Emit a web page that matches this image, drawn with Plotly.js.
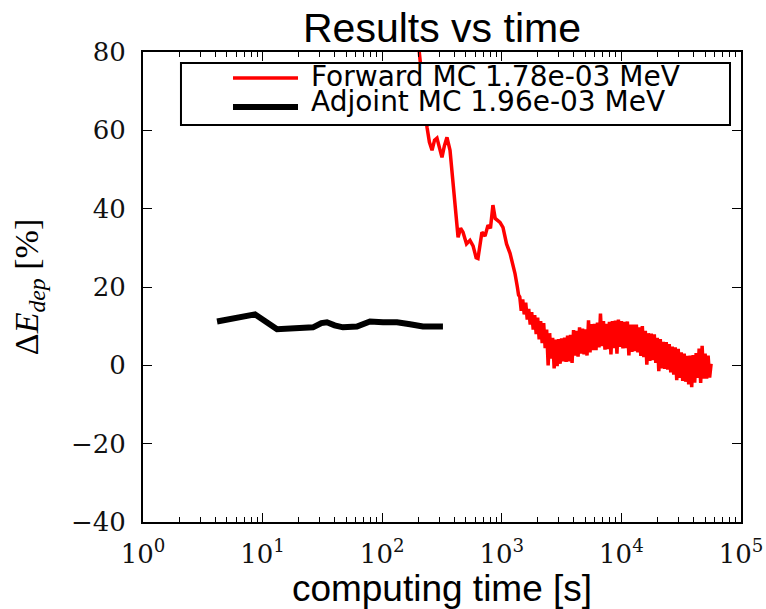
<!DOCTYPE html>
<html>
<head>
<meta charset="utf-8">
<script src="https://cdn.plot.ly/plotly-3.0.1.min.js"></script>
<style>html,body{margin:0;padding:0;background:#fff;}</style>
</head>
<body>
<div id="chart" style="width:766px;height:609px;"></div>
<script>
// ---- data ----
const forwardTime = [186, 209, 224, 237, 248, 261, 274, 287, 302, 316, 331, 348, 369, 389, 406, 431, 452, 474, 507, 542, 575, 610, 632, 682, 724, 767, 804, 843, 881, 912, 966, 1023, 1096, 1172, 1230, 1288, 1349, 1380,
  1413, 1454, 1496, 1540, 1585, 1632, 1679, 1728, 1778, 1831, 1884, 1939, 1995, 2054, 2113, 2176, 2239, 2305, 2371, 2441,
  2512, 2586, 2661, 2739, 2818, 2901, 2985, 3073, 3162, 3256, 3350, 3449, 3548, 3653, 3758, 3869, 3981, 4099, 4217, 4342,
  4467, 4599, 4732, 4872, 5012, 5160, 5309, 5466, 5623, 5790, 5957, 6133, 6310, 6496, 6683, 6881, 7079, 7289, 7499, 7721,
  7943, 8178, 8414, 8663, 8913, 9177, 9441, 9720, 10000, 10296, 10593, 10906, 11220, 11552, 11885, 12237, 12589, 12962,
  13335, 13730, 14125, 14543, 14962, 15405, 15849, 16318, 16788, 17285, 17783, 18309, 18836, 19394, 19953, 20544, 21135,
  21761, 22387, 23050, 23714, 24416, 25119, 25863, 26607, 27395, 28184, 29019, 29854, 30738, 31623, 32560, 33497, 34489,
  35481, 36532, 37584, 38697, 39811, 40990, 42170, 43419, 44668, 45991, 47315, 48717, 50119, 51603, 53088, 54661, 56234];
const forwardErr = [92, 78, 68, 60.8, 57, 54.9, 57.5, 58.0, 55, 53.1, 56, 58.2, 54.9, 48, 42.1, 32.7, 35, 34.0, 31, 31.9, 30.5, 27.5, 27.3, 34.0, 33, 35.8, 35, 40.9, 37.5, 37.0, 36.5, 35.2, 31, 28.6, 26, 23.5, 20, 18,
  17.5, 13.9, 16.8, 13.0, 16.0, 11.7, 14.4, 10.4, 13.6, 9.1, 12.8, 8.0, 12.2, 6.6, 11.3, 5.7, 10.8, 4.4, 9.1, 0.0,
  8.2, 1.7, 7.0, -0.8, 6.6, -0.2, 6.7, 0.4, 6.9, 1.0, 7.1, 0.9, 7.6, 1.0, 7.8, 0.6, 9.0, 2.5, 8.8, 2.2,
  9.7, 3.0, 9.4, 2.8, 9.2, 2.5, 11.5, 3.3, 10.5, 3.9, 10.6, 3.9, 10.9, 4.6, 13.2, 4.9, 11.3, 4.0, 10.6, 4.1,
  11.1, 2.8, 11.3, 4.4, 11.4, 3.0, 11.7, 4.7, 11.3, 4.3, 11.1, 4.4, 11.2, 2.5, 10.4, 3.4, 10.4, 3.6,
  10.4, 3.3, 9.7, 2.4, 10.0, 2.1, 8.8, 0.2, 8.2, 1.1, 8.1, 1.3, 7.9, 0.6, 7.0, -1.5, 6.7,
  -0.8, 6.0, -0.9, 5.9, -1.1, 5.4, -1.8, 4.8, -2.4, 4.6, -3.8, 4.2, -3.2, 3.3, -4.0, 3.0, -4.2,
  2.4, -4.9, 2.5, -5.6, 2.6, -4.4, 3.1, -3.2, 4.3, -4.5, 5.0, -3.4, 3.0, -3.4, 2.5, -3.1, 0.4];

const adjointTime = [4.16, 8.64, 13.2, 19.4, 26.4, 31.0, 34.5, 40.0, 47.0, 61.5, 79.0, 101.6, 133, 171, 219, 322];
const adjointErr = [11.2, 13.0, 9.2, 9.4, 9.7, 10.8, 11.0, 10.2, 9.7, 9.9, 11.2, 11.0, 11.0, 10.5, 9.9, 9.9];

const seriesNames = ['Forward MC 1.78e-03 MeV', 'Adjoint MC 1.96e-03 MeV'];
const seriesColors = ['#ff0000', '#000000'];

const xTickVals = [1, 10, 100, 1000, 10000, 100000];
const xTickText = ['10<sup>0</sup>', '10<sup>1</sup>', '10<sup>2</sup>', '10<sup>3</sup>', '10<sup>4</sup>', '10<sup>5</sup>'];

// minor ticks at 2..9 of each decade
const minorVals = [];
for (let d = 1; d <= 10000; d *= 10) { for (let k = 2; k <= 9; k++) minorVals.push(k * d); }

const traces = [
  { x: forwardTime, y: forwardErr, type: 'scatter', mode: 'lines', name: seriesNames[0],
    line: { color: seriesColors[0], width: 3.5 }, showlegend: false },
  { x: adjointTime, y: adjointErr, type: 'scatter', mode: 'lines', name: seriesNames[1],
    line: { color: seriesColors[1], width: 6 }, showlegend: false }
];

const serif = 'DejaVu Serif, Liberation Serif, serif';
const sans = 'Liberation Sans, Arial, Helvetica, sans-serif';
const legSans = 'DejaVu Sans, Liberation Sans, sans-serif';

// legend box geometry (paper coords)
const lg = { x0: 0.0635, x1: 0.9816, y0: 0.8447, y1: 0.9766, sx0: 0.1505, sx1: 0.2592, tx: 0.2776, rows: [0.9447, 0.8830], trows: [0.9475, 0.8940] };

const layout = {
  width: 766, height: 609,
  margin: { l: 143, r: 25, t: 52, b: 87 },
  paper_bgcolor: '#ffffff', plot_bgcolor: '#ffffff',
  showlegend: false,
  title: { text: 'Results vs time', font: { family: sans, size: 41, color: '#000' },
           x: 0.5, xref: 'paper', xanchor: 'center', y: 0.955, yref: 'container', yanchor: 'middle' },
  xaxis: {
    type: 'log', range: [0, 5],
    tickmode: 'array', tickvals: xTickVals, ticktext: xTickText,
    ticks: 'inside', ticklen: 9, tickwidth: 1, tickcolor: '#000',
    minor: { tickmode: 'array', tickvals: minorVals, ticks: 'inside', ticklen: 5, tickwidth: 1, tickcolor: '#000' },
    mirror: 'allticks', showline: true, linewidth: 2, linecolor: '#000',
    showgrid: false, zeroline: false,
    tickfont: { family: serif, size: 26, color: '#111' },
    ticklabelstandoff: 8,
    title: { text: 'computing time [s]', font: { family: sans, size: 37, color: '#000' }, standoff: 0 }
  },
  yaxis: {
    range: [-40, 80], tickmode: 'linear', tick0: 0, dtick: 20,
    ticks: 'inside', ticklen: 9, tickwidth: 1, tickcolor: '#000',
    mirror: 'allticks', showline: true, linewidth: 2, linecolor: '#000',
    showgrid: false, zeroline: false,
    tickfont: { family: serif, size: 26, color: '#111' },
    ticklabelstandoff: 10,
    title: { text: 'Δ<i>E</i><sub><i>dep</i></sub> [%]', font: { family: 'Liberation Serif, serif', size: 34, color: '#000' }, standoff: 22 }
  },
  shapes: [
    { type: 'rect', xref: 'paper', yref: 'paper', x0: lg.x0, x1: lg.x1, y0: lg.y0, y1: lg.y1,
      fillcolor: '#ffffff', line: { color: '#000', width: 2 }, layer: 'above' },
    { type: 'line', xref: 'paper', yref: 'paper', x0: lg.sx0, x1: lg.sx1, y0: lg.rows[0], y1: lg.rows[0],
      line: { color: seriesColors[0], width: 3.5 }, layer: 'above' },
    { type: 'line', xref: 'paper', yref: 'paper', x0: lg.sx0, x1: lg.sx1, y0: lg.rows[1], y1: lg.rows[1],
      line: { color: seriesColors[1], width: 6 }, layer: 'above' }
  ],
  annotations: [
    { xref: 'paper', yref: 'paper', x: lg.tx, y: lg.trows[0], xanchor: 'left', yanchor: 'middle',
      text: seriesNames[0], showarrow: false, font: { family: legSans, size: 28, color: '#000' } },
    { xref: 'paper', yref: 'paper', x: lg.tx, y: lg.trows[1], xanchor: 'left', yanchor: 'middle',
      text: seriesNames[1], showarrow: false, font: { family: legSans, size: 28, color: '#000' } }
  ]
};

Plotly.newPlot('chart', traces, layout, { displayModeBar: false, staticPlot: true });
</script>
</body>
</html>
